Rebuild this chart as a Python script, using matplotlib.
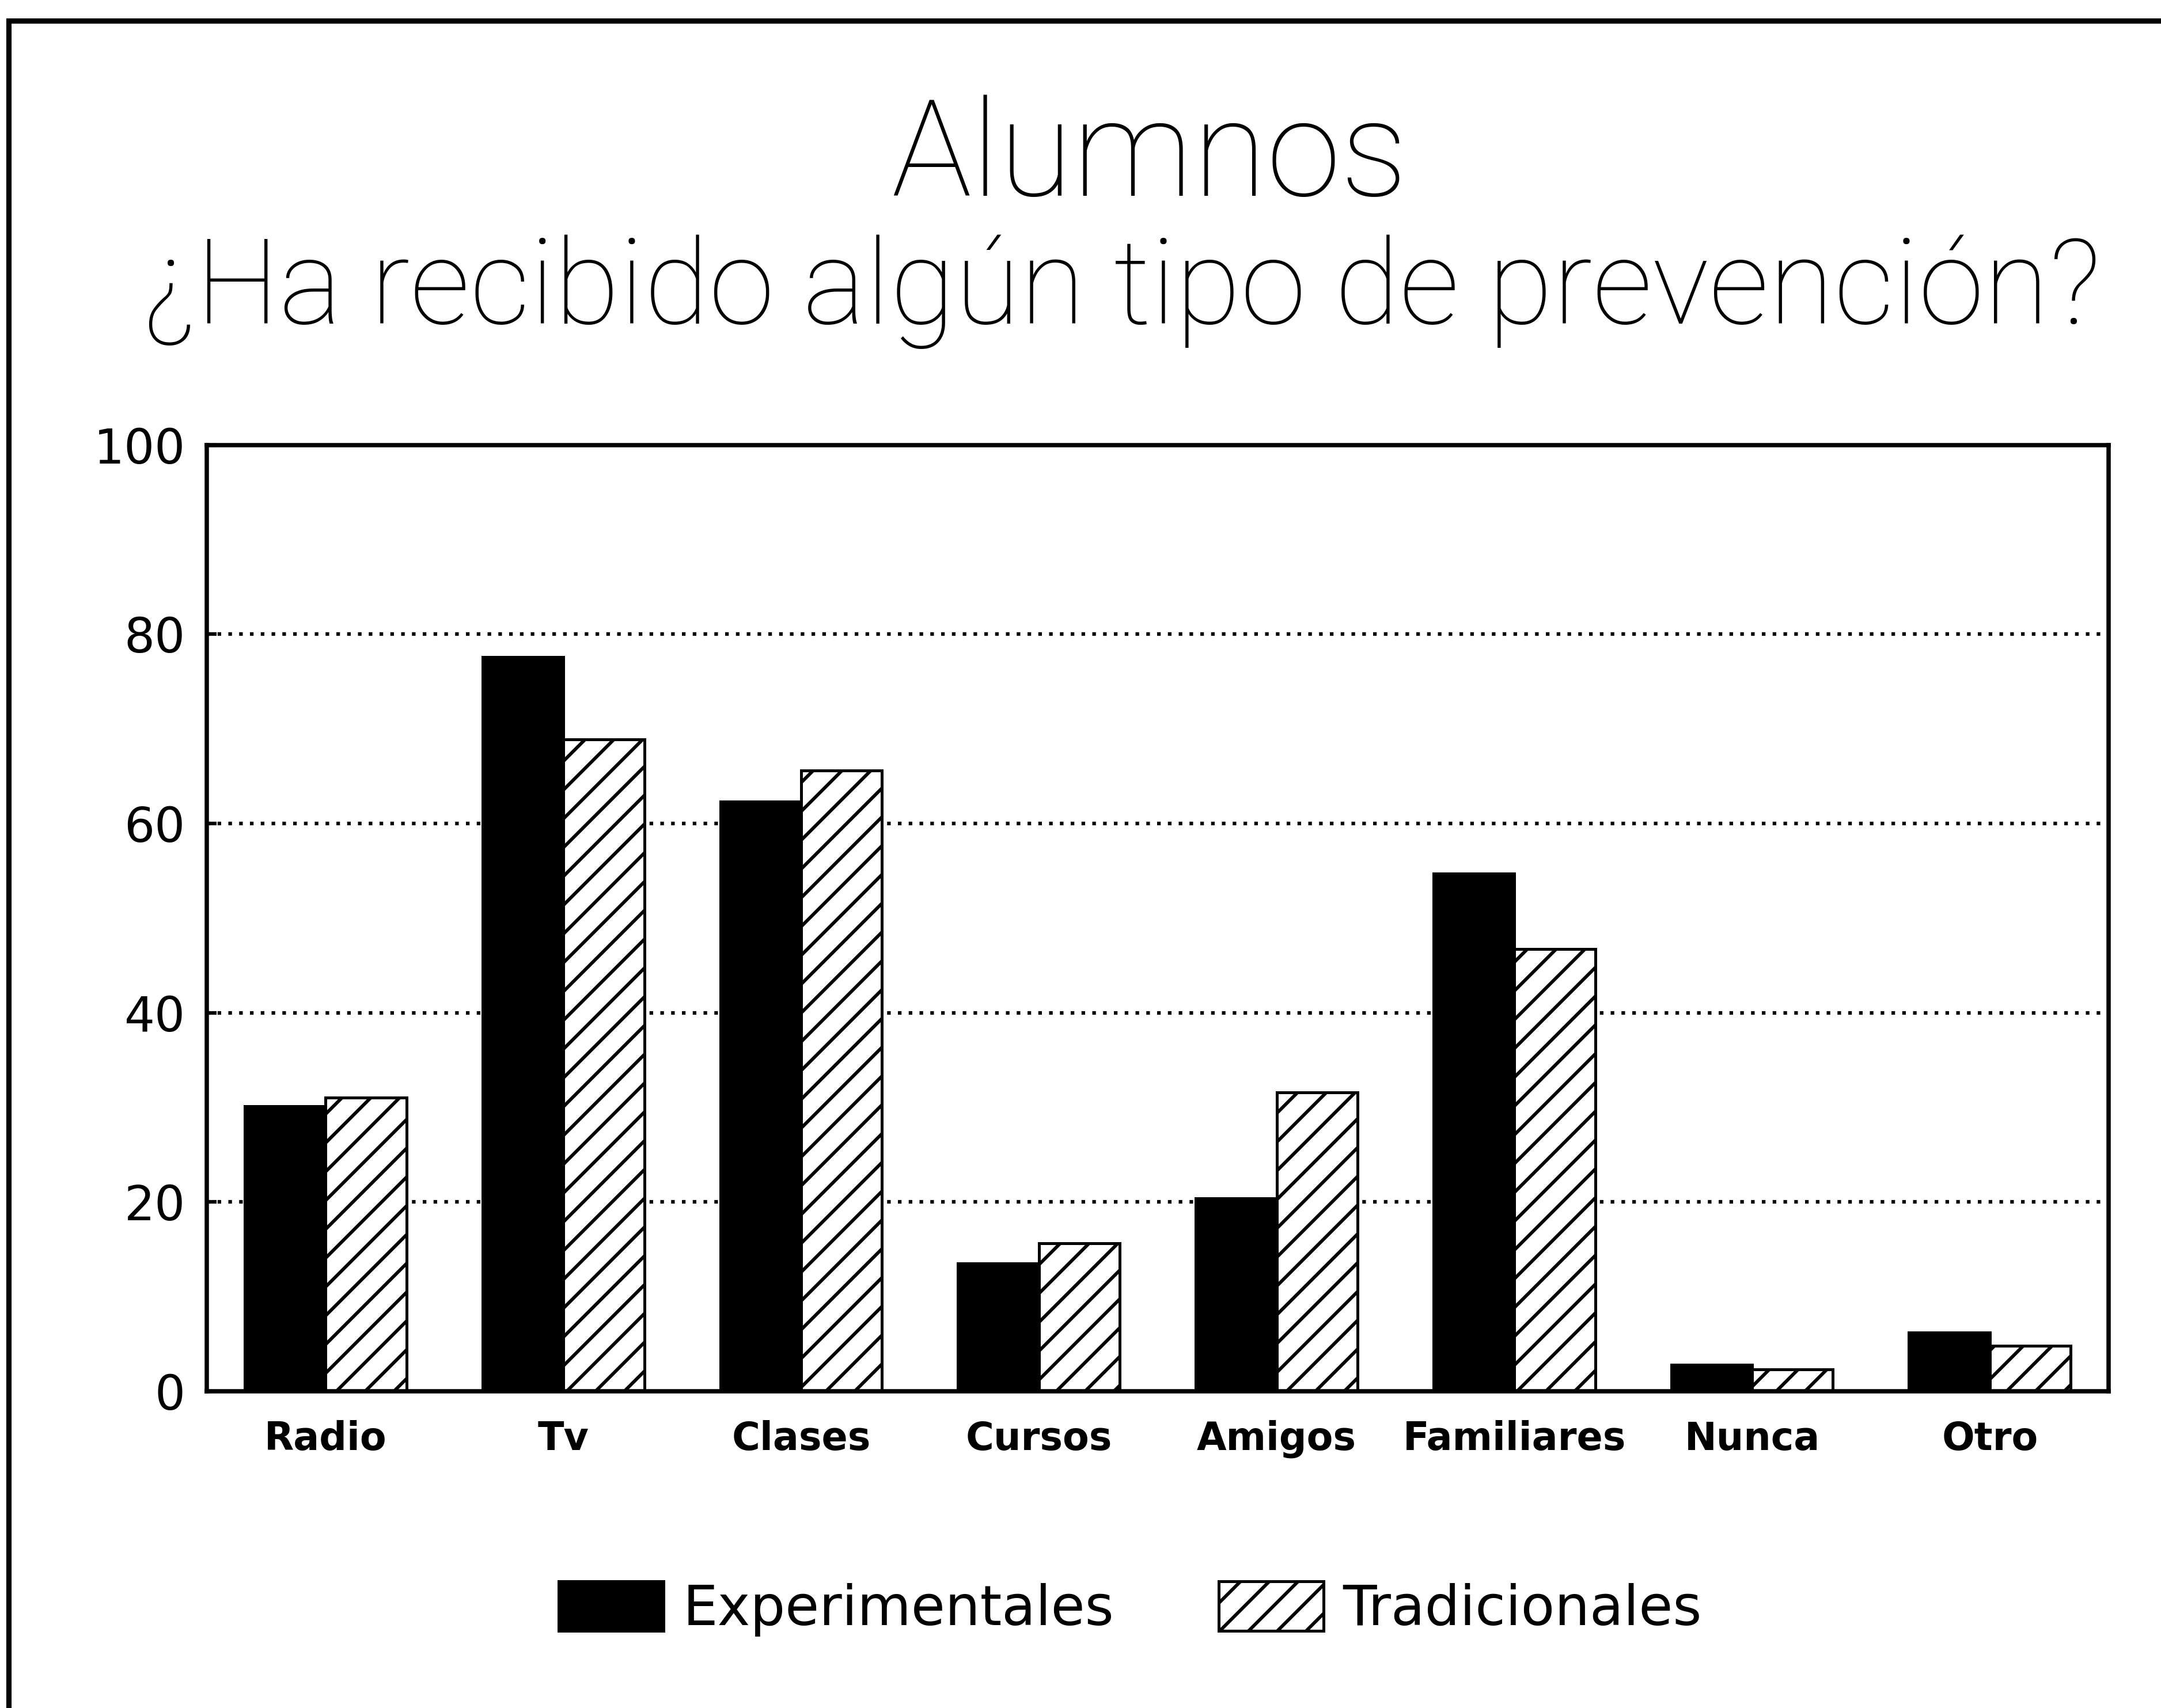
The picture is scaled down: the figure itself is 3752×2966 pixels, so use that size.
import matplotlib
matplotlib.use("Agg")
import numpy as np
from matplotlib import pyplot as plt
from matplotlib.patches import Patch, Rectangle

# data (percent)
categories = ["Radio", "Tv", "Clases", "Cursos", "Amigos", "Familiares", "Nunca", "Otro"]
experimentales = [30.1, 77.6, 62.3, 13.5, 20.4, 54.7, 2.8, 6.2]
tradicionales = [31.0, 68.9, 65.6, 15.6, 31.6, 46.7, 2.3, 4.8]
y_ticks = [0, 20, 40, 60, 80, 100]

title = "Alumnos"
subtitle = "¿Ha recibido algún tipo de prevención?"
series_names = ["Experimentales", "Tradicionales"]

plt.rcParams["hatch.linewidth"] = 1.4
plt.rcParams["font.family"] = ["DejaVu Sans"]

fig = plt.figure(figsize=(3752 / 300, 2966 / 300), dpi=300)
ax = fig.add_axes([0.0957, 0.1855, 0.8801, 0.554])

x = np.arange(len(categories))
w = 0.34

ax.bar(x - w / 2, experimentales, w, color="black", edgecolor="black", linewidth=1.2, zorder=3)
ax.bar(x + w / 2, tradicionales, w, color="white", edgecolor="black", linewidth=1.2,
       hatch="//", zorder=3)

ax.set_xlim(-0.5, len(categories) - 0.5)
ax.set_ylim(0, 100)
ax.set_yticks(y_ticks)
ax.set_yticklabels([str(v) for v in y_ticks], fontsize=20)
ax.set_xticks(x)
ax.set_xticklabels(categories, fontsize=16, fontweight="bold")
ax.tick_params(axis="y", direction="in", length=4, width=1.5, pad=9)
ax.tick_params(axis="x", length=0, pad=12)

# dotted grid at the inner ticks
for v in y_ticks[1:-1]:
    ax.axhline(v, color="black", linestyle=(0, (1, 2)), linewidth=1.5, zorder=1)

for s in ax.spines.values():
    s.set_linewidth(1.8)
    s.set_zorder(4)

fig.text(0.532, 0.907, title, ha="center", va="center", fontsize=56,
         family=["Roboto", "DejaVu Sans"], fontweight="light")
fig.text(0.519, 0.829, subtitle, ha="center", va="center", fontsize=49.5,
         family=["Roboto", "DejaVu Sans"], fontweight="light")

# outer frame of the page
fig.patches.append(Rectangle((0.004, -0.2), 1.2, 1.188, transform=fig.transFigure,
                             fill=False, edgecolor="black", linewidth=2.2))

handles = [Patch(facecolor="black", edgecolor="black", linewidth=1.2),
           Patch(facecolor="white", edgecolor="black", linewidth=1.2, hatch="//")]
fig.legend(handles, series_names, loc="center", bbox_to_anchor=(0.523, 0.058), ncol=2,
           frameon=False, fontsize=23, handlelength=1.9, handleheight=1.0,
           handletextpad=0.35, columnspacing=1.9)

fig.savefig("out.png", dpi=300, facecolor="white")
